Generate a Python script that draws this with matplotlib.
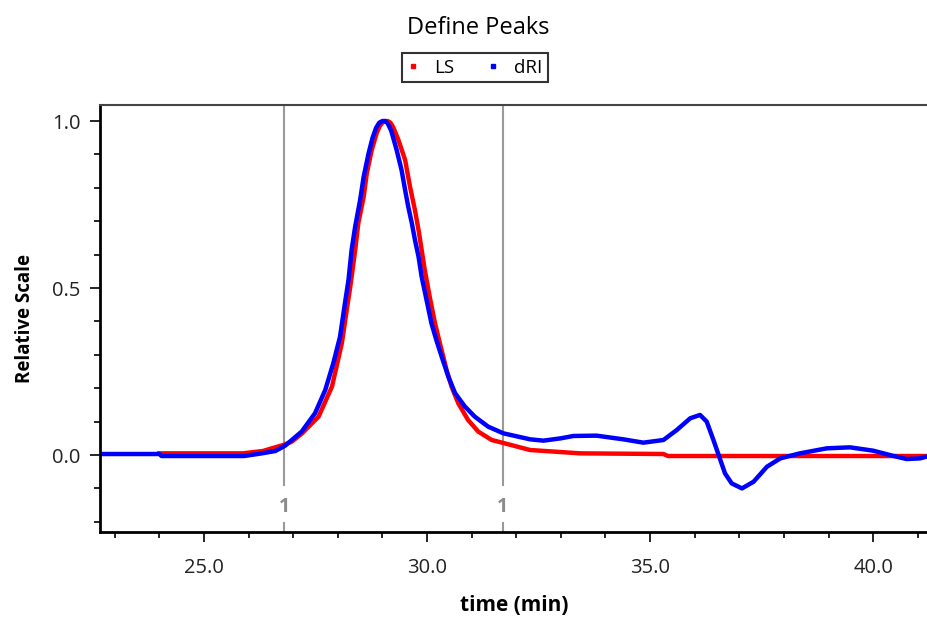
import numpy
from matplotlib import pyplot
from matplotlib.ticker import MultipleLocator

pyplot.rcParams['font.family'] = ['Open Sans', 'DejaVu Sans']

# LS (red) trace
ls_time = [24.0, 25.0, 25.87, 26.32, 26.52, 26.78, 26.97, 27.2, 27.57, 27.87,
           28.09, 28.2, 28.28, 28.39, 28.46, 28.58, 28.65, 28.76, 28.87, 28.94,
           29.0, 29.06, 29.12, 29.18, 29.24, 29.36, 29.51, 29.62, 29.73, 29.81,
           29.88, 29.95, 30.06, 30.18, 30.29, 30.44, 30.55, 30.7, 30.92, 31.15,
           31.45, 31.74, 32.31, 33.43, 35.3, 35.4, 41.25]
ls_value = [0.005, 0.005, 0.005, 0.012, 0.02, 0.03, 0.04, 0.065, 0.115, 0.205,
            0.334, 0.434, 0.504, 0.614, 0.694, 0.773, 0.843, 0.913, 0.963, 0.985,
            0.995, 1.0, 1.0, 0.995, 0.982, 0.943, 0.883, 0.803, 0.733, 0.674,
            0.614, 0.554, 0.474, 0.394, 0.334, 0.254, 0.205, 0.155, 0.105, 0.07,
            0.045, 0.035, 0.015, 0.005, 0.003, -0.003, -0.003]

# dRI (blue) trace
dri_time = [22.67, 24.0, 24.05, 25.9, 26.3, 26.6, 26.82, 27.19, 27.49, 27.72,
            27.9, 28.05, 28.16, 28.24, 28.31, 28.39, 28.5, 28.58, 28.69, 28.78,
            28.86, 28.93, 29.0, 29.06, 29.12, 29.2, 29.32, 29.43, 29.51, 29.58,
            29.66, 29.73, 29.81, 29.88, 29.99, 30.1, 30.21, 30.33, 30.48, 30.63,
            30.85, 31.07, 31.37, 31.71, 32.31, 32.61, 33.0, 33.28, 33.8, 34.4,
            34.85, 35.3, 35.6, 35.9, 36.12, 36.27, 36.42, 36.55, 36.68, 36.83,
            37.06, 37.32, 37.62, 37.92, 38.36, 38.96, 39.48, 40.0, 40.46, 40.75,
            41.05, 41.25]
dri_value = [0.003, 0.003, -0.003, -0.003, 0.005, 0.012, 0.028, 0.07, 0.125, 0.195,
             0.275, 0.354, 0.454, 0.524, 0.614, 0.684, 0.763, 0.833, 0.903, 0.95,
             0.98, 0.995, 1.0, 1.0, 0.993, 0.97, 0.913, 0.853, 0.793, 0.743,
             0.694, 0.644, 0.594, 0.534, 0.464, 0.394, 0.344, 0.294, 0.234, 0.185,
             0.145, 0.115, 0.085, 0.065, 0.047, 0.043, 0.05, 0.057, 0.058, 0.047,
             0.037, 0.045, 0.075, 0.11, 0.12, 0.1, 0.045, -0.005, -0.055, -0.085,
             -0.1, -0.08, -0.035, -0.01, 0.005, 0.02, 0.023, 0.013, -0.003, -0.012,
             -0.01, -0.003]

# peak limits
peak_limits = [26.8, 31.7]
peak_labels = ['1', '1']

fig = pyplot.figure(figsize=(9.28, 6.22), dpi=100)
ax = fig.add_axes([100/928, 1 - 532/622, 828/928, 427/622])

ax.plot(ls_time, ls_value, color='#ff0000', lw=3.2)
ax.plot(dri_time, dri_value, color='#0000ff', lw=3.2)

# peak limit markers: solid line, label, short dash under it
for x, lab in zip(peak_limits, peak_labels):
    ax.plot([x, x], [-0.09, 1.06], color='#9a9a9a', lw=1.5, zorder=1)
    ax.plot([x, x], [-0.205, -0.235], color='#9a9a9a', lw=1.5, zorder=1)
    ax.text(x, -0.156, lab, color='#8c8c8c', fontsize=14, fontweight='bold',
            ha='center', va='center')

ax.set_xlim(22.67, 41.23)
ax.set_ylim(-0.2305, 1.048)
ax.xaxis.set_major_locator(MultipleLocator(5))
ax.xaxis.set_minor_locator(MultipleLocator(1))
ax.yaxis.set_major_locator(MultipleLocator(0.5))
ax.yaxis.set_minor_locator(MultipleLocator(0.1))
ax.xaxis.set_major_formatter('{x:.1f}')
ax.yaxis.set_major_formatter('{x:.1f}')

ax.spines['right'].set_visible(False)
ax.spines['left'].set_linewidth(2)
ax.spines['bottom'].set_linewidth(2)
ax.spines['top'].set_linewidth(1.5)
ax.spines['top'].set_color('#444444')

ax.tick_params(axis='both', which='major', length=7, width=1.2,
               labelsize=14.5, colors='black', labelcolor='#222222')
ax.tick_params(axis='both', which='minor', length=4, width=1.2)
ax.tick_params(axis='x', which='major', pad=12)
ax.tick_params(axis='y', which='major', pad=7)

ax.set_xlabel('time (min)', fontsize=15, fontweight='bold', labelpad=12)
ax.set_ylabel('Relative Scale', fontsize=13.5, fontweight='bold', labelpad=12)

fig.text(478/928, 1 - 28/622, 'Define Peaks', fontsize=17, ha='center', va='center')

h_ls, = pyplot.plot([], [], 's', color='#ff0000', markersize=3)
h_dri, = pyplot.plot([], [], 's', color='#0000ff', markersize=3)
leg = fig.legend([h_ls, h_dri], ['LS', 'dRI'], loc='upper center',
                 bbox_to_anchor=(475/928, 1 - 53/622), ncol=2, fontsize=13.5,
                 frameon=True, fancybox=False, handlelength=0.6,
                 handletextpad=0.8, columnspacing=1.8, borderpad=0.3,
                 borderaxespad=0)
leg.get_frame().set_edgecolor('black')
leg.get_frame().set_linewidth(1.5)

pyplot.savefig('out.png')
